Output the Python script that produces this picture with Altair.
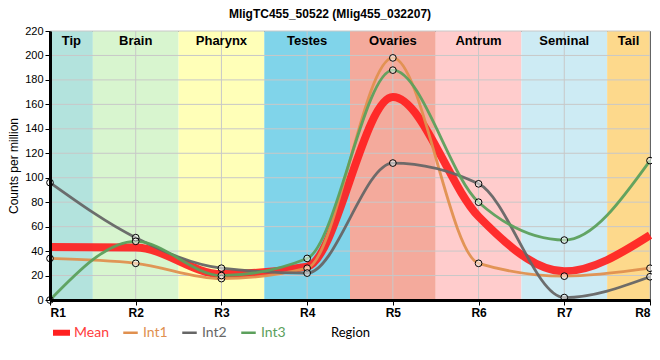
import altair as alt
import pandas as pd

# ---- data ----
regions = ["R1", "R2", "R3", "R4", "R5", "R6", "R7", "R8"]
region_pos = [1, 2, 3, 4, 5, 6, 7, 8]
mean_vals = [43.3, 43.0, 21.2, 27.3, 166.0, 68.3, 23.5, 53.0]
int1_vals = [34, 30, 17.5, 26, 198, 30, 19.5, 26]
int2_vals = [96, 51, 26, 22, 112, 95, 2, 19]
int3_vals = [0, 48, 20, 34, 188, 80, 49, 114]

band_names = ["Tip", "Brain", "Pharynx", "Testes", "Ovaries", "Antrum", "Seminal", "Tail"]
band_start = [1, 1.5, 2.5, 3.5, 4.5, 5.5, 6.5, 7.5]
band_end = [1.5, 2.5, 3.5, 4.5, 5.5, 6.5, 7.5, 8]
band_colors = ["#b3e3dd", "#d8f5cf", "#ffffb8", "#80d4ea", "#f4aa9c", "#ffcccc", "#cdebf4", "#fdd98c"]

y_ticks = [0, 20, 40, 60, 80, 100, 120, 140, 160, 180, 200, 220]

series_names = ["Mean", "Int1", "Int2", "Int3"]
series_colors = ["#ff2020", "#e0904f", "#666666", "#5ca05c"]

# ---- tables ----
bands_df = pd.DataFrame({
    "name": band_names,
    "start": band_start,
    "end": band_end,
    "color": band_colors,
    "mid": [(s + e) / 2 for s, e in zip(band_start, band_end)],
})

rows = []
for name, vals in zip(series_names, [mean_vals, int1_vals, int2_vals, int3_vals]):
    for r, p, v in zip(regions, region_pos, vals):
        rows.append({"series": name, "region": r, "pos": p, "value": v})
lines_df = pd.DataFrame(rows)

xscale = alt.Scale(domain=[1, 8], nice=False, zero=False)
yscale = alt.Scale(domain=[0, 220], nice=False)

x_axis = alt.Axis(
    values=region_pos, labelExpr="'R' + datum.value", labelFontWeight="bold",
    labelFontSize=12, labelColor="black", labelFont="Liberation Sans",
    domainWidth=3, domainColor="black", tickColor="black", tickSize=5,
    grid=False, title="Region", titleFontWeight="normal", titleFontSize=13,
    titleFont="Lato", titleColor="black", titlePadding=8, zindex=1,
    labelOverlap=False,
)
y_axis = alt.Axis(
    values=y_ticks, labelFontSize=11, labelColor="black", labelFont="Liberation Sans",
    domainWidth=3, domainColor="black", tickColor="black", tickSize=5,
    grid=False, title="Counts per million", titleFontWeight="normal",
    titleFontSize=12, titleFont="Liberation Sans", titleColor="black", zindex=1,
    labelOverlap=False, labelFlush=False,
)


def X(field):
    return alt.X(field, scale=xscale, axis=x_axis)


def Y(field):
    return alt.Y(field, scale=yscale, axis=y_axis)


bands = alt.Chart(bands_df).mark_rect().encode(
    x=X("start:Q"),
    x2="end:Q",
    y=alt.value(0),
    y2=alt.value(269),
    fill=alt.Fill("color:N", scale=None),
)

band_labels = alt.Chart(bands_df).mark_text(
    fontWeight="bold", fontSize=13, baseline="top", font="Liberation Sans", color="black"
).encode(
    x=X("mid:Q"),
    y=alt.value(4),
    text="name:N",
)

hgrid = alt.Chart(pd.DataFrame({"v": y_ticks})).mark_rule(color="#c8c8c8", strokeWidth=1).encode(
    y=Y("v:Q")
)
vgrid = alt.Chart(pd.DataFrame({"p": region_pos})).mark_rule(color="#c8c8c8", strokeWidth=1).encode(
    x=X("p:Q")
)

label_expr = ("datum.label == 'Mean' ? '#ff3b3b' : datum.label == 'Int1' ? '#e0904f' : "
              "datum.label == 'Int2' ? '#666666' : '#5ca05c'")
shape_expr = "datum.label == 'Mean' ? 'M-1,-0.25H1V0.25H-1Z' : 'M-1,0H1'"
fill_expr = "datum.label == 'Mean' ? '#ff2020' : 'transparent'"

legend = alt.Legend(
    title=None, orient="none", legendX=3, legendY=293, direction="horizontal",
    symbolType={"expr": shape_expr}, symbolSize=210, symbolStrokeWidth=2.5,
    symbolFillColor={"expr": fill_expr},
    labelFontSize=14, labelFont="Lato",
    labelColor={"expr": label_expr},
    columnPadding=9, symbolOpacity=1, labelOffset=4,
)

color_enc = alt.Color("series:N", scale=alt.Scale(domain=series_names, range=series_colors), legend=legend)

mean_line = alt.Chart(lines_df[lines_df["series"] == "Mean"]).mark_line(
    interpolate="monotone", strokeWidth=8, opacity=0.92
).encode(
    x=X("pos:Q"),
    y=Y("value:Q"),
    color=color_enc,
    order=alt.Order("pos:Q"),
)

int_lines = alt.Chart(lines_df[lines_df["series"] != "Mean"]).mark_line(
    interpolate="monotone", strokeWidth=2.8, opacity=0.95
).encode(
    x=X("pos:Q"),
    y=Y("value:Q"),
    color=color_enc,
    order=alt.Order("pos:Q"),
)

points = alt.Chart(lines_df[lines_df["series"] != "Mean"]).mark_point(
    shape="circle", size=45, stroke="black", strokeWidth=1, fill="white", fillOpacity=0.5, opacity=1
).encode(
    x=X("pos:Q"),
    y=Y("value:Q"),
)

chart = alt.layer(bands, hgrid, vgrid, band_labels, mean_line, int_lines, points).properties(
    width=600, height=269,
    title=alt.TitleParams(
        "MligTC455_50522 (Mlig455_032207)", fontSize=12, fontWeight="bold",
        font="Liberation Sans", color="black", dx=-20, offset=4,
    ),
    autosize=alt.AutoSizeParams(type="none"),
    padding={"left": 42, "top": 23, "right": 2, "bottom": 52},
).configure_view(stroke="black", strokeWidth=1)

chart.save("out.html", embed_options={"renderer": "svg", "actions": False})
